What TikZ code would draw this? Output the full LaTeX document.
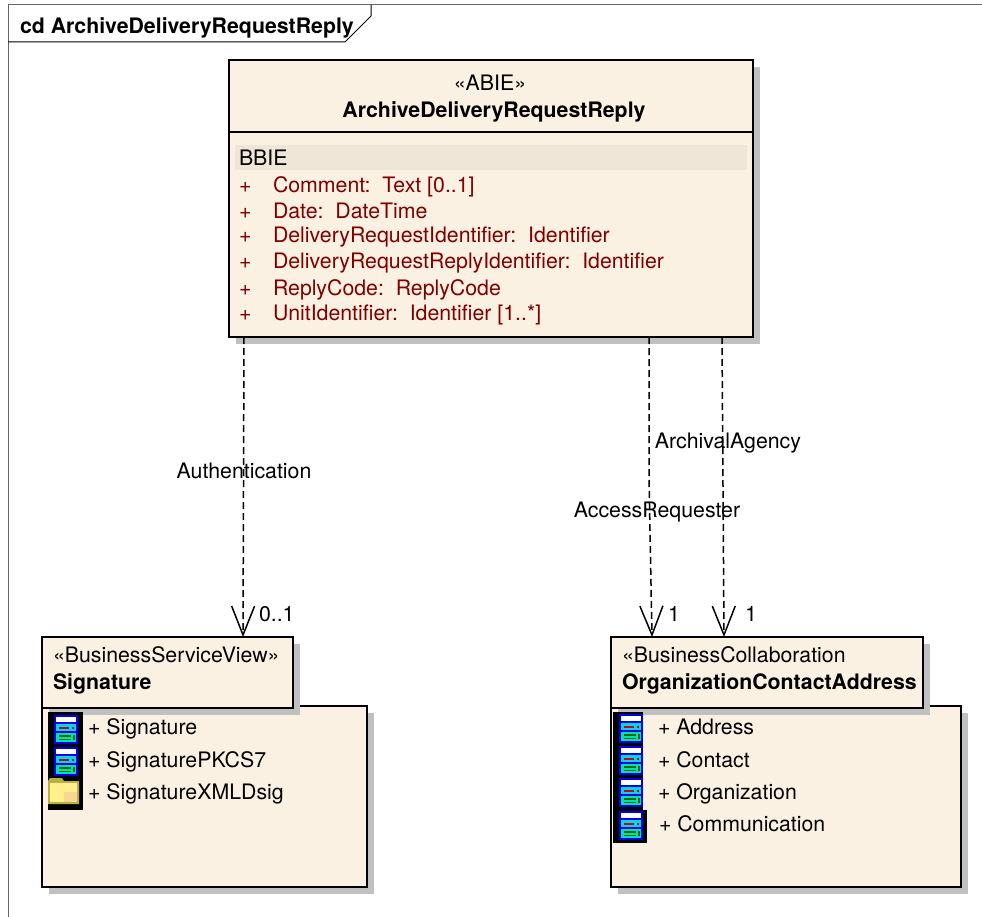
\documentclass[tikz,border=0pt]{standalone}
\usepackage{fontspec}
\usepackage{xcolor}
\setmainfont{TeX Gyre Heros}
\usetikzlibrary{arrows.meta,shadows}

\definecolor{boxfill}{HTML}{FBF1E3}
\definecolor{barfill}{HTML}{EFE6D8}
\definecolor{attrred}{HTML}{800000}
\definecolor{shadowgray}{HTML}{C0C0C0}
\definecolor{iconblue}{HTML}{0000F0}
\definecolor{iconcyan}{HTML}{00D8F0}
\definecolor{iconteal}{HTML}{00E0B0}
\definecolor{folderedge}{HTML}{B8B040}
\definecolor{folderfill}{HTML}{FFF08C}
\definecolor{foldershade}{HTML}{F8D890}

\tikzset{
    umlbox/.style={draw=black, fill=boxfill, line width=1.4pt, anchor=north west, inner sep=0pt, outer sep=0pt,
        drop shadow={shadow xshift=7pt, shadow yshift=-7pt, fill=shadowgray, opacity=1}},
    txt/.style={anchor=base west, inner sep=0pt, outer sep=0pt, font=\fontsize{21.3}{24}\selectfont},
    boldtxt/.style={txt, font=\fontsize{21.3}{24}\selectfont\bfseries},
    attr/.style={txt, text=attrred},
    deplink/.style={line width=1.5pt, dash pattern=on 7pt off 4pt,
        -{Straight Barb[length=29pt, width=23pt, line width=1.5pt]}},
    pics/servericon/.style={code={
        \fill[iconblue] (0,0) rectangle (24,29);
        \fill[white] (2,2) rectangle (22,7);
        \fill[iconcyan] (2,9) rectangle (22,16);
        \fill[red!85!black] (5,12) rectangle (15,13.5);
        \fill[red!85!black] (18,12) rectangle (20,13.5);
        \fill[iconteal] (2,18) rectangle (22,27);
        \fill[green!40!black] (5,20) rectangle (17,21.5);
        \fill[green!40!black] (5,23.5) rectangle (17,25);
        \fill[green!40!black] (19,20) rectangle (20.5,25);
    }},
    pics/foldericon/.style={code={
        \fill[folderedge] (0,3) -- (2,0) -- (14,0) -- (16,3) -- (31,3) -- (31,26) -- (0,26) -- cycle;
        \fill[folderfill] (2,5) rectangle (29,24);
        \fill[foldershade] (16,14) rectangle (29,24);
    }},
}

\begin{document}
\begin{tikzpicture}[x=1pt, y=-1pt]
    \useasboundingbox (0,0) rectangle (982,917);

    % Frame
    \draw[line width=1pt, color=black!60] (8,917) -- (8,5) -- (982,5);
    \draw[line width=1pt] (8,42) -- (345,42) -- (371,16) -- (371,5);
    \node[boldtxt] (frametitle) at (20,34) {cd ArchiveDeliveryRequestReply};

    % Upper class
    \node[umlbox, minimum width=524pt, minimum height=277pt] (reply) at (229,60) {};
    \draw[line width=1.4pt] (229,132) -- (753,132);
    \node[txt, anchor=base] (replystereo) at (490,91) {«ABIE»};
    \node[boldtxt, anchor=base] (replyname) at (494,118) {ArchiveDeliveryRequestReply};
    \fill[barfill] (235,145) rectangle (747,170);
    \node[txt] (bbie) at (239,166) {BBIE};
    \node[attr] (plusa) at (239,193) {+};
    \node[attr] (attra) at (273,193) {Comment:\ \ Text [0..1]};
    \node[attr] (plusb) at (239,219) {+};
    \node[attr] (attrb) at (273,219) {Date:\ \ DateTime};
    \node[attr] (plusc) at (239,243) {+};
    \node[attr] (attrc) at (273,243) {DeliveryRequestIdentifier:\ \ Identifier};
    \node[attr] (plusd) at (239,269) {+};
    \node[attr] (attrd) at (273,269) {DeliveryRequestReplyIdentifier:\ \ Identifier};
    \node[attr] (pluse) at (239,295) {+};
    \node[attr] (attre) at (273,295) {ReplyCode:\ \ ReplyCode};
    \node[attr] (plusf) at (239,320) {+};
    \node[attr] (attrf) at (273,320) {UnitIdentifier:\ \ Identifier [1..*]};

    % Left package
    \node[umlbox, minimum width=325pt, minimum height=181pt] (sigbody) at (42,706) {};
    \node[umlbox, minimum width=251pt, minimum height=71pt] (sigtab) at (42,637) {};
    \node[txt] (sigstereo) at (53,662) {«BusinessServiceView»};
    \node[boldtxt] (signame) at (53,689) {Signature};
    \fill[black] (48,712) rectangle (83,810);
    \pic at (54,715) {servericon};
    \pic at (54,747) {servericon};
    \pic at (48,778) {foldericon};
    \node[txt] (siga) at (88,734) {+ Signature};
    \node[txt] (sigb) at (88,767) {+ SignaturePKCS7};
    \node[txt] (sigc) at (88,799) {+ SignatureXMLDsig};

    % Right package
    \node[umlbox, minimum width=350pt, minimum height=181pt] (orgbody) at (611,706) {};
    \node[umlbox, minimum width=312pt, minimum height=71pt] (orgtab) at (611,637) {};
    \node[txt] (orgstereo) at (622,662) {«BusinessCollaboration};
    \node[boldtxt] (orgname) at (622,689) {OrganizationContactAddress};
    \fill[black] (613,712) rectangle (643,810);
    \fill[black] (613,810) rectangle (647,843);
    \pic at (619,714) {servericon};
    \pic at (619,746) {servericon};
    \pic at (619,778) {servericon};
    \pic at (619,811) {servericon};
    \node[txt] (orga) at (658,734) {+ Address};
    \node[txt] (orgb) at (658,767) {+ Contact};
    \node[txt] (orgc) at (658,799) {+ Organization};
    \node[txt] (orgd) at (659,831) {+ Communication};

    % Connectors
    \coordinate (accessbend) at (649,478);
    \draw[deplink] ([xshift=-247pt]reply.south) -- ([xshift=75.5pt]sigtab.north);
    \draw[deplink] ([xshift=158pt]reply.south) -- (accessbend) -- ([xshift=-115pt]orgtab.north);
    \draw[deplink] ([xshift=231pt]reply.south) -- ([xshift=-43pt]orgtab.north);

    % Labels
    \node[txt, anchor=base] (authlabel) at (244,478) {Authentication};
    \node[txt, anchor=base] (accesslabel) at (657,517) {AccessRequester};
    \node[txt, anchor=base] (archivallabel) at (728,448) {ArchivalAgency};
    \node[txt] (authmult) at (259,621) {0..1};
    \node[txt] (accessmult) at (668,621) {1};
    \node[txt] (archivalmult) at (745,621) {1};

\end{tikzpicture}
\end{document}
